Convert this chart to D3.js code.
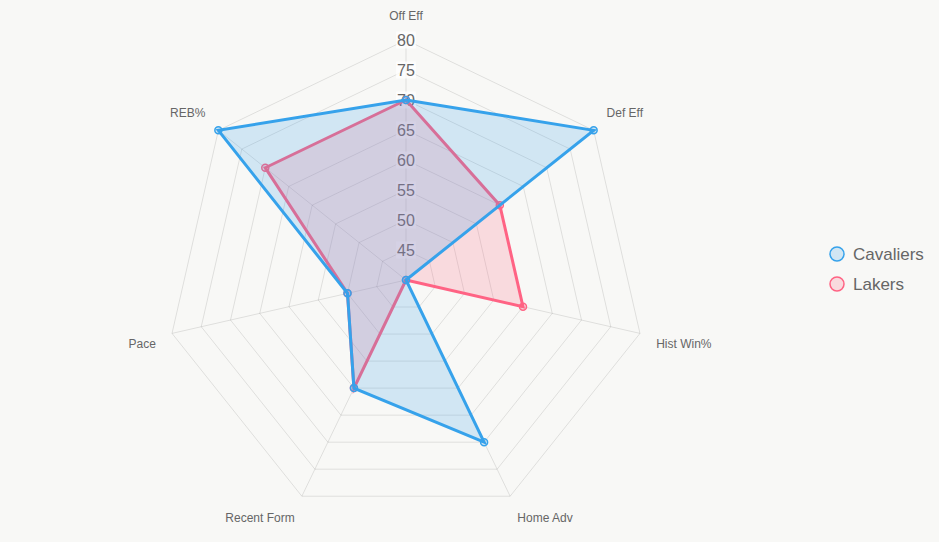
<!DOCTYPE html>
<html>
<head>
<meta charset="utf-8">
<script src="https://cdn.jsdelivr.net/npm/d3@7"></script>
<style>
  html, body { margin: 0; padding: 0; background: #f8f8f6; }
  svg { display: block; font-family: "Liberation Sans", Arial, sans-serif; }
</style>
</head>
<body>
<div id="chart"></div>
<script>
// axis labels, clockwise from the top
const axes = ["Off Eff", "Def Eff", "Hist Win%", "Home Adv", "Recent Form", "Pace", "REB%"];
const cavaliers = [70, 80, 40, 70, 60, 50, 80];
const lakers = [70, 60, 60, 40, 60, 50, 70];
const tickValues = [45, 50, 55, 60, 65, 70, 75, 80];
const seriesNames = ["Cavaliers", "Lakers"];

const width = 939, height = 542;
const cx = 406, cy = 280, radius = 240;

const svg = d3.select("#chart").append("svg")
    .attr("width", width)
    .attr("height", height);

svg.append("rect").attr("width", width).attr("height", height).attr("fill", "#f8f8f6");

const r = d3.scaleLinear().domain([40, 80]).range([0, radius]);
const angle = d3.scalePoint().domain(axes).range([0, 2 * Math.PI * (axes.length - 1) / axes.length]);

const colors = {
    Cavaliers: { line: "rgb(54,162,235)", fill: "rgba(54,162,235,0.2)" },
    Lakers: { line: "rgb(255,99,132)", fill: "rgba(255,99,132,0.2)" }
};

const g = svg.append("g").attr("transform", "translate(" + cx + "," + cy + ")");

function pos(a, d) {
    return [d * Math.sin(a), -d * Math.cos(a)];
}

// grid rings
const ring = d3.lineRadial()
    .angle(function(d) { return angle(d); })
    .curve(d3.curveLinearClosed);

g.selectAll(".ring")
    .data(tickValues)
    .enter()
    .append("path")
    .attr("class", "ring")
    .attr("d", function(t) { return ring.radius(r(t))(axes); })
    .attr("fill", "none")
    .attr("stroke", "rgba(0,0,0,0.1)")
    .attr("stroke-width", 1);

// spokes
g.selectAll(".spoke")
    .data(axes)
    .enter()
    .append("line")
    .attr("class", "spoke")
    .attr("x1", 0).attr("y1", 0)
    .attr("x2", function(d) { return pos(angle(d), r(80))[0]; })
    .attr("y2", function(d) { return pos(angle(d), r(80))[1]; })
    .attr("stroke", "rgba(0,0,0,0.1)")
    .attr("stroke-width", 1);

// tick labels with backdrop
const tickG = g.selectAll(".tick")
    .data(tickValues)
    .enter()
    .append("g")
    .attr("class", "tick")
    .attr("transform", function(t) { return "translate(0," + (-r(t)) + ")"; });

const backdrops = tickG.append("rect")
    .attr("fill", "rgba(255,255,255,0.75)");

const tickText = tickG.append("text")
    .attr("text-anchor", "middle")
    .attr("dominant-baseline", "central")
    .attr("font-size", "16px")
    .attr("fill", "#666")
    .text(function(t) { return t; });

tickText.each(function() {
    const w = this.getComputedTextLength() + 2;
    d3.select(this.parentNode).select("rect")
        .attr("x", -w / 2).attr("y", -8.5)
        .attr("width", w).attr("height", 17);
});

// point labels
const labelDist = radius + 11.6 + 5;
g.selectAll(".plabel")
    .data(axes)
    .enter()
    .append("text")
    .attr("class", "plabel")
    .attr("font-size", "12px")
    .attr("fill", "#666")
    .attr("dominant-baseline", "central")
    .attr("x", function(d) { return pos(angle(d), labelDist)[0]; })
    .attr("y", function(d) {
        const a = angle(d) * 180 / Math.PI;
        const y = pos(angle(d), labelDist)[1];
        if (a < 89 || a > 271) return y - 7.2;
        if (a > 91 && a < 269) return y + 7.2;
        return y;
    })
    .attr("text-anchor", function(d) {
        const a = angle(d) * 180 / Math.PI;
        if (a < 1 || Math.abs(a - 180) < 1) return "middle";
        return a < 180 ? "start" : "end";
    })
    .text(function(d) { return d; });

// datasets: draw Lakers first so Cavaliers sit on top
const series = [
    { name: "Lakers", values: lakers },
    { name: "Cavaliers", values: cavaliers }
];

const area = d3.lineRadial()
    .angle(function(d, i) { return angle(axes[i]); })
    .radius(function(d) { return r(d); })
    .curve(d3.curveLinearClosed);

series.forEach(function(s) {
    const c = colors[s.name];
    g.append("path")
        .attr("d", area(s.values))
        .attr("fill", c.fill)
        .attr("stroke", c.line)
        .attr("stroke-width", 3)
        .attr("stroke-linejoin", "miter");

    g.selectAll(".pt-" + s.name)
        .data(s.values)
        .enter()
        .append("circle")
        .attr("cx", function(d, i) { return pos(angle(axes[i]), r(d))[0]; })
        .attr("cy", function(d, i) { return pos(angle(axes[i]), r(d))[1]; })
        .attr("r", 3.5)
        .attr("fill", c.fill)
        .attr("stroke", c.line)
        .attr("stroke-width", 1.5);
});

// legend
const legend = svg.append("g").attr("transform", "translate(837,254)");
const items = legend.selectAll("g")
    .data(seriesNames)
    .enter()
    .append("g")
    .attr("transform", function(d, i) { return "translate(0," + (i * 30) + ")"; });

items.append("circle")
    .attr("r", 7)
    .attr("fill", function(d) { return colors[d].fill; })
    .attr("stroke", function(d) { return colors[d].line; })
    .attr("stroke-width", 1.5);

items.append("text")
    .attr("x", 16)
    .attr("dominant-baseline", "central")
    .attr("font-size", "17px")
    .attr("fill", "#666")
    .text(function(d) { return d; });
</script>
</body>
</html>
